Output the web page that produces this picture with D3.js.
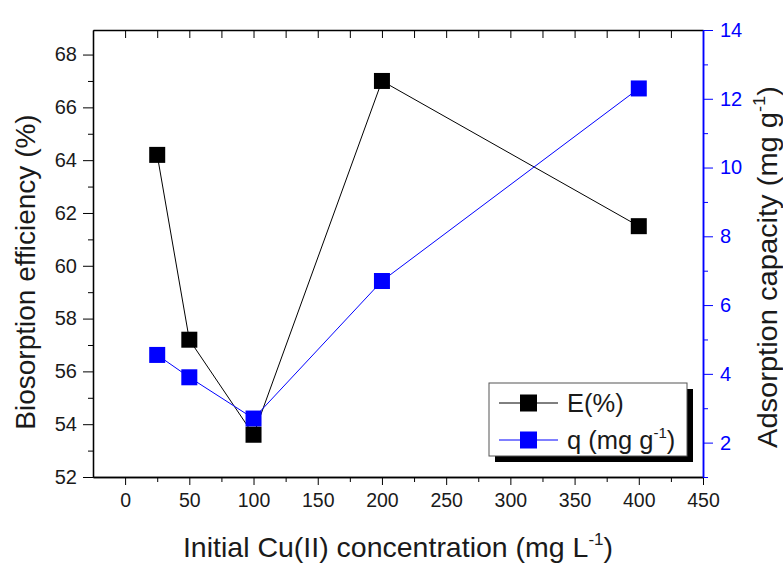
<!DOCTYPE html>
<html>
<head>
<meta charset="utf-8">
<script src="https://cdn.jsdelivr.net/npm/d3@7"></script>
<style>
  body { margin: 0; background: #fff; }
  text { font-family: Arial, "Liberation Sans", sans-serif; }
</style>
</head>
<body>
<script>
// donnees
const concentration = [25, 50, 100, 200, 400];
const efficacite = [64.2, 57.2, 53.6, 67.0, 61.5];      // E (%)
const capacite = [4.55, 3.9, 2.7, 6.7, 12.3];          // q (mg g-1)

const ticksX = [0, 50, 100, 150, 200, 250, 300, 350, 400, 450];
const ticksGauche = [52, 54, 56, 58, 60, 62, 64, 66, 68];
const ticksDroite = [2, 4, 6, 8, 10, 12, 14];

// cadre
const largeur = 783;
const hauteur = 563;
const gauche = 93, droite = 703, haut = 30, bas = 477;
const bleu = "#0000ff";
const encre = "#1a1a1a";

const svg = d3.select("body")
  .append("svg")
  .attr("width", largeur)
  .attr("height", hauteur);

const x = d3.scaleLinear().domain([-25, 450]).range([gauche, droite]);
const yE = d3.scaleLinear().domain([52, 68.93]).range([bas, haut]);
const yQ = d3.scaleLinear().domain([1, 14]).range([bas, haut]);

// axe du bas
svg.append("g")
  .attr("transform", `translate(0,${bas})`)
  .call(d3.axisBottom(x).tickValues(d3.range(25, 451, 50)).tickSize(5).tickSizeOuter(0).tickFormat(""));
svg.append("g")
  .attr("transform", `translate(0,${bas})`)
  .call(d3.axisBottom(x).tickValues(ticksX).tickSize(8).tickSizeOuter(0).tickPadding(8))
  .selectAll("text").style("font-size", "19.5px");

// axe du haut, ticks vers l'interieur
svg.append("g")
  .attr("transform", `translate(0,${haut})`)
  .call(d3.axisTop(x).tickValues(d3.range(0, 426, 25)).tickSize(-8).tickSizeOuter(0).tickFormat(""));

// axe gauche
svg.append("g")
  .attr("transform", `translate(${gauche},0)`)
  .call(d3.axisLeft(yE).tickValues(d3.range(53, 68, 2)).tickSize(5).tickSizeOuter(0).tickFormat(""));
svg.append("g")
  .attr("transform", `translate(${gauche},0)`)
  .call(d3.axisLeft(yE).tickValues(ticksGauche).tickSize(10).tickSizeOuter(0).tickPadding(6))
  .selectAll("text").style("font-size", "20px");

// axe droit en bleu
const axeD1 = svg.append("g")
  .attr("transform", `translate(${droite},0)`)
  .call(d3.axisRight(yQ).tickValues(d3.range(1, 14, 2)).tickSize(5).tickSizeOuter(0).tickFormat(""));
const axeD2 = svg.append("g")
  .attr("transform", `translate(${droite},0)`)
  .call(d3.axisRight(yQ).tickValues(ticksDroite).tickSize(10).tickSizeOuter(0).tickPadding(7));
axeD2.selectAll("text").style("font-size", "20px").attr("fill", bleu);
[axeD1, axeD2].forEach(a => {
  a.selectAll("line").attr("stroke", bleu);
  a.select(".domain").attr("stroke", bleu).attr("stroke-width", 1.5);
});

svg.selectAll(".domain").filter(function() { return d3.select(this).attr("stroke") !== bleu; })
  .attr("stroke", "#000").attr("stroke-width", 1.3);
svg.selectAll(".tick text").filter(function() { return d3.select(this).attr("fill") !== bleu; })
  .attr("fill", encre);

// lignes
const ligneE = d3.line().x((d, i) => x(concentration[i])).y(d => yE(d));
const ligneQ = d3.line().x((d, i) => x(concentration[i])).y(d => yQ(d));

svg.append("path")
  .datum(efficacite)
  .attr("d", ligneE)
  .attr("fill", "none")
  .attr("stroke", "#000")
  .attr("stroke-width", 1);
svg.append("path")
  .datum(capacite)
  .attr("d", ligneQ)
  .attr("fill", "none")
  .attr("stroke", bleu)
  .attr("stroke-width", 1);

const cote = 16;
svg.selectAll(".ptQ")
  .data(capacite)
  .join("rect")
  .attr("class", "ptQ")
  .attr("x", (d, i) => x(concentration[i]) - cote / 2)
  .attr("y", d => yQ(d) - cote / 2)
  .attr("width", cote)
  .attr("height", cote)
  .attr("fill", bleu);
svg.selectAll(".ptE")
  .data(efficacite)
  .join("rect")
  .attr("class", "ptE")
  .attr("x", (d, i) => x(concentration[i]) - cote / 2)
  .attr("y", d => yE(d) - cote / 2)
  .attr("width", cote)
  .attr("height", cote)
  .attr("fill", "#000");

// titres des axes
svg.append("text")
  .attr("transform", `translate(35,272) rotate(-90)`)
  .attr("text-anchor", "middle")
  .style("font-size", "28px")
  .attr("fill", encre)
  .text("Biosorption efficiency (%)");

const titreD = svg.append("text")
  .attr("transform", `translate(777,267) rotate(-90)`)
  .attr("text-anchor", "middle")
  .attr("textLength", 362)
  .attr("lengthAdjust", "spacingAndGlyphs")
  .style("font-size", "27px")
  .attr("fill", encre);
titreD.append("tspan").text("Adsorption capacity (mg g");
titreD.append("tspan").attr("dy", -12).style("font-size", "17px").text("-1");
titreD.append("tspan").attr("dy", 12).text(")");

const titreX = svg.append("text")
  .attr("x", 398)
  .attr("y", 557)
  .attr("text-anchor", "middle")
  .style("font-size", "28.5px")
  .attr("fill", encre);
titreX.append("tspan").text("Initial Cu(II) concentration (mg L");
titreX.append("tspan").attr("dy", -12).style("font-size", "17px").text("-1");
titreX.append("tspan").attr("dy", 12).text(")");

// legende
const leg = svg.append("g").attr("transform", "translate(489,383)");
leg.append("rect").attr("x", 6).attr("y", 6).attr("width", 198).attr("height", 73).attr("fill", "#000");
leg.append("rect").attr("x", 0).attr("y", 0).attr("width", 198).attr("height", 73)
  .attr("fill", "#fff").attr("stroke", "#555").attr("stroke-width", 1);

const series = [
  { nom: "E(%)", couleur: "#000" },
  { nom: "q (mg g", couleur: bleu, exp: "-1" }
];
const coteLeg = 17;
series.forEach((s, i) => {
  const yy = 20 + i * 37;
  leg.append("line").attr("x1", 10).attr("x2", 69).attr("y1", yy).attr("y2", yy)
    .attr("stroke", s.couleur).attr("stroke-width", 1);
  leg.append("rect").attr("x", 39.5 - coteLeg / 2).attr("y", yy - coteLeg / 2)
    .attr("width", coteLeg).attr("height", coteLeg).attr("fill", s.couleur);
  const t = leg.append("text").attr("x", 78).attr("y", yy + 9)
    .style("font-size", "25.5px").attr("fill", encre);
  t.append("tspan").text(s.nom);
  if (s.exp) {
    t.append("tspan").attr("dy", -11).style("font-size", "15px").text(s.exp);
    t.append("tspan").attr("dy", 11).text(")");
  }
});
</script>
</body>
</html>
